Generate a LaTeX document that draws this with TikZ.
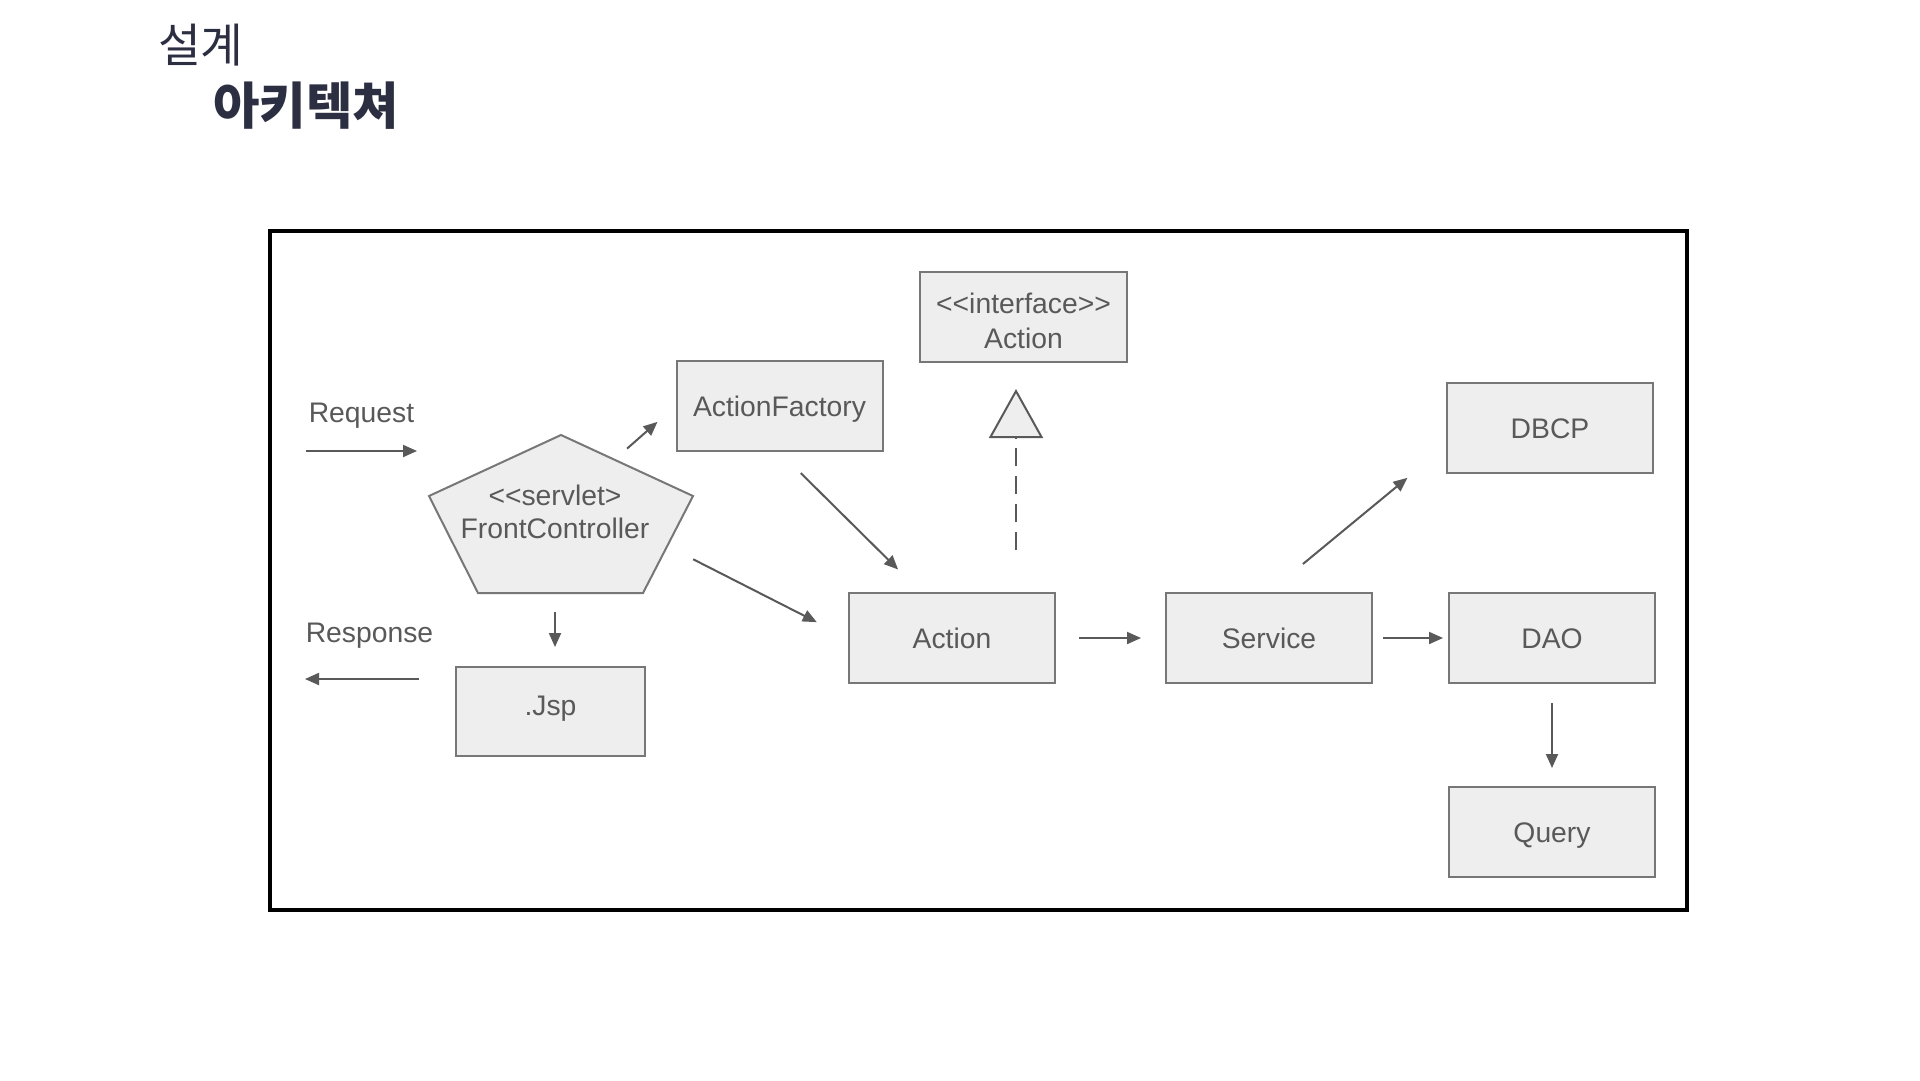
\documentclass[tikz,border=0pt]{standalone}
\usepackage{fontspec}
\setmainfont{Liberation Sans}
\newfontfamily\krfont{Noto Sans CJK KR}
\usetikzlibrary{arrows.meta,positioning,calc}
\definecolor{BoxFill}{HTML}{EEEEEE}
\definecolor{BoxLine}{HTML}{777777}
\definecolor{InkGray}{HTML}{595959}
\definecolor{TitleInk}{HTML}{2C2E42}

\begin{document}
\begin{tikzpicture}[x=1pt,y=-1pt,font=\fontsize{28.3}{33}\selectfont,
block/.style={draw=BoxLine,fill=BoxFill,line width=2pt,text=InkGray,minimum width=206pt,minimum height=90pt,align=center,inner sep=0pt},
one/.style={text height=20.3pt,text depth=0pt},
lbl/.style={text=InkGray,inner sep=0pt},
arr/.style={-{Triangle[length=14pt,width=12pt]},line width=2pt,draw=InkGray}]
\fill[white] (0,0) rectangle (1920,1080);
\useasboundingbox (0,0) rectangle (1920,1080);
% title
\node[anchor=base west,inner sep=0pt,text=TitleInk,font=\krfont\fontsize{46.5}{52}\selectfont] (ttl) at (158,62) {설계};
\node[anchor=base west,inner sep=0pt,text=TitleInk,font=\krfont\bfseries\fontsize{50.5}{56}\selectfont] (sub) at (213,124) {아키텍쳐};
\draw[line width=4pt] (270,231) rectangle (1687,910);
% front controller
\draw[draw=BoxLine,fill=BoxFill,line width=2pt] (561,435) -- (693,496) -- (643,593) -- (478,593) -- (429,496) -- cycle;
\node[lbl,align=center] (fc) at (555,512) {<{}<servlet>\\FrontController};
\node[block,minimum width=189pt,minimum height=89pt,text height=20.3pt,text depth=13pt] (jsp) at (550.5,711.5) {.Jsp};
\node[block,one] (af) at (779.5,406) {ActionFactory};
\node[block,minimum width=207pt,font=\fontsize{28.3}{35}\selectfont,text height=62pt,text depth=0pt] (ia) at (1023.5,317) {<{}<interface>{}>\\Action};
\node[block,one] (act) at (952,638) {Action};
\node[block,one,right=109pt of act] (svc) {Service};
\node[block,one,right=75pt of svc] (dao) {DAO};
\node[block,one,above=118pt of dao,xshift=-2pt] (dbcp) {DBCP};
\node[block,one,below=102pt of dao] (query) {Query};
% request / response
\node[lbl,anchor=base] (req) at (361.5,422) {Request};
\node[lbl,anchor=base] (resp) at (369.5,642) {Response};
\coordinate (reqA) at (306,451);
\coordinate (reqB) at (417,451);
\coordinate (respA) at (419,679);
\coordinate (respB) at (305,679);
\draw[arr] (reqA) -- (reqB);
\draw[arr] (respA) -- (respB);
% flow
\draw[arr,shorten <=96pt,shorten >=24pt] (fc.center) -- (af.west);
\draw[arr,shorten <=155pt,shorten >=35pt] ($(fc.center)+(0,-23)$) -- (act.west);
\draw[arr,shorten <=100pt,shorten >=19pt] (fc.center) -- (fc.center |- jsp.north);
\draw[arr,shorten <=30pt,shorten >=32pt] (af.south) -- ($(act.north west)!0.35!(act.north east)$);
\draw[arr,shorten <=23pt,shorten >=24pt] (act) -- (svc);
\draw[arr,shorten <=10pt,shorten >=5pt] (svc) -- (dao);
\draw[arr,shorten <=19pt,shorten >=18pt] (dao) -- (query);
\draw[arr,shorten <=44pt,shorten >=6pt] (svc.north) -- ($(dbcp.south west)+(-34,0)$);
\draw[line width=2pt,draw=InkGray,dash pattern=on 18pt off 10pt,-{Triangle[length=49pt,width=54pt,fill=BoxFill]},shorten <=42pt,shorten >=26pt] ($(ia.south |- act.north)+(-7.5,0)$) -- ($(ia.south)+(-7.5,0)$);
\end{tikzpicture}
\end{document}
